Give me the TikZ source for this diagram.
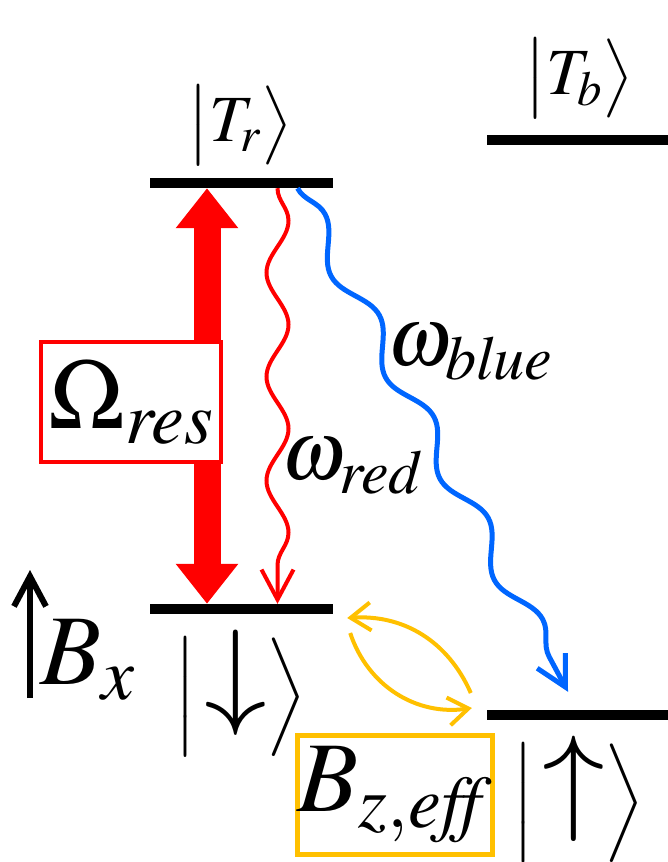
\documentclass[tikz,border=0pt]{standalone}
\usepackage{mathptmx}
\usepackage{graphicx}
\usepackage{tikz}
\usetikzlibrary{arrows.meta, decorations.pathmorphing, positioning}

\definecolor{pumpred}{RGB}{255,0,0}
\definecolor{decayblue}{RGB}{0,102,255}
\definecolor{fieldgold}{RGB}{255,192,0}

\newcommand{\ketstate}[1]{\left|\rule[-0.3em]{0pt}{1.0em}#1\right\rangle}
\newcommand{\spinarrow}[1]{\rule[-0.5em]{0pt}{1.5em}\,\smash{\raisebox{0.22em}{$\vcenter{\hbox{\scalebox{1.9}[1.8]{$#1$}}}$}}}

\begin{document}
\begin{tikzpicture}[x=1pt, y=-1pt,
    level/.style={rectangle, fill=black, minimum width=183pt, minimum height=10pt, inner sep=0pt},
    ketlabel/.style={inner sep=0pt, font=\fontsize{66}{70}\selectfont},
    bigsym/.style={inner sep=0pt, font=\fontsize{100}{104}\selectfont},
    wavesym/.style={inner sep=0pt, font=\fontsize{84}{88}\selectfont},
    pump/.style={draw=pumpred, line width=27pt, {Triangle[length=40pt,width=60pt]}-{Triangle[length=40pt,width=60pt]}},
    decay/.style={decorate, line width=#1, -{Straight Barb[length=30pt,width=32pt]}},
    swap/.style={draw=fieldgold, line width=4pt, -{Straight Barb[length=20pt,width=28pt]}},
    labelbox/.style={rectangle, fill=white, inner sep=0pt}
]
\useasboundingbox (0,0) rectangle (668,862);

% Levels
\node[level] (Tr) at (241.5,183) {};
\node[level, minimum width=181pt] (Tb) at (577.5,140) {};
\node[level] (dn) at (241.5,609) {};
\node[level, minimum width=181pt] (up) at (577.5,715) {};

% Level labels
\node[ketlabel] (Trlabel) at (240,125) {$\ketstate{T_r}$};
\node[ketlabel] (Tblabel) at (579,78) {$\ketstate{T_b}$};
\node[ketlabel] (dnlabel) at (241,697) {$\ketstate{\spinarrow{\downarrow}}$};
\node[ketlabel] (uplabel) at (579,803) {$\ketstate{\spinarrow{\uparrow}}$};

% Resonant drive
\draw[pump] ([xshift=-34.5pt]Tr.south) -- ([xshift=-34.5pt]dn.north);
\node[labelbox, draw=pumpred, line width=3.5pt, minimum width=180pt, minimum height=120pt, bigsym] (Omega) at (131,402) {$\Omega_{\mathit{res}}$};

% Decay channels
\draw[decay=4pt, draw=pumpred, decoration={snake, segment length=104pt, amplitude=11pt, post length=28pt}]
    ([xshift=36pt]Tr.south) -- ([xshift=36pt]dn.north);
\node[wavesym] (wred) at (352,466) {$\omega_{\mathit{red}}$};

\coordinate (bluetip) at ([xshift=-9.5pt,yshift=18pt]up.north);
\draw[decay=5pt, draw=decayblue, decoration={snake, segment length=115pt, amplitude=12pt, post length=30pt}]
    ([xshift=56pt]Tr.south) -- (bluetip);
\node[wavesym] (wblue) at (470,352) {$\omega_{\mathit{blue}}$};

% Effective field coupling
\coordinate (dnA) at ([xshift=14pt,yshift=-9pt]dn.east);
\coordinate (dnB) at ([xshift=17pt,yshift=-24pt]dn.east);
\coordinate (upA) at ([xshift=-16pt,yshift=22pt]up.west);
\coordinate (upB) at ([xshift=-15pt,yshift=7pt]up.west);
\draw[swap] (upA) to[bend right=35] (dnA);
\draw[swap] (dnB) to[bend right=40] (upB);
\node[labelbox, draw=fieldgold, line width=5pt, minimum width=195pt, minimum height=119pt, bigsym] (Bz) at (395,795) {$B_{z,\mathit{eff}}$};

% Static field
\coordinate (bxfoot) at (30,698);
\coordinate (bxtip) at (30,570);
\draw[line width=6pt, -{Straight Barb[length=30pt,width=32pt]}] (bxfoot) -- (bxtip);
\node[bigsym] (Bx) at (88,660) {$B_x$};

\end{tikzpicture}
\end{document}
